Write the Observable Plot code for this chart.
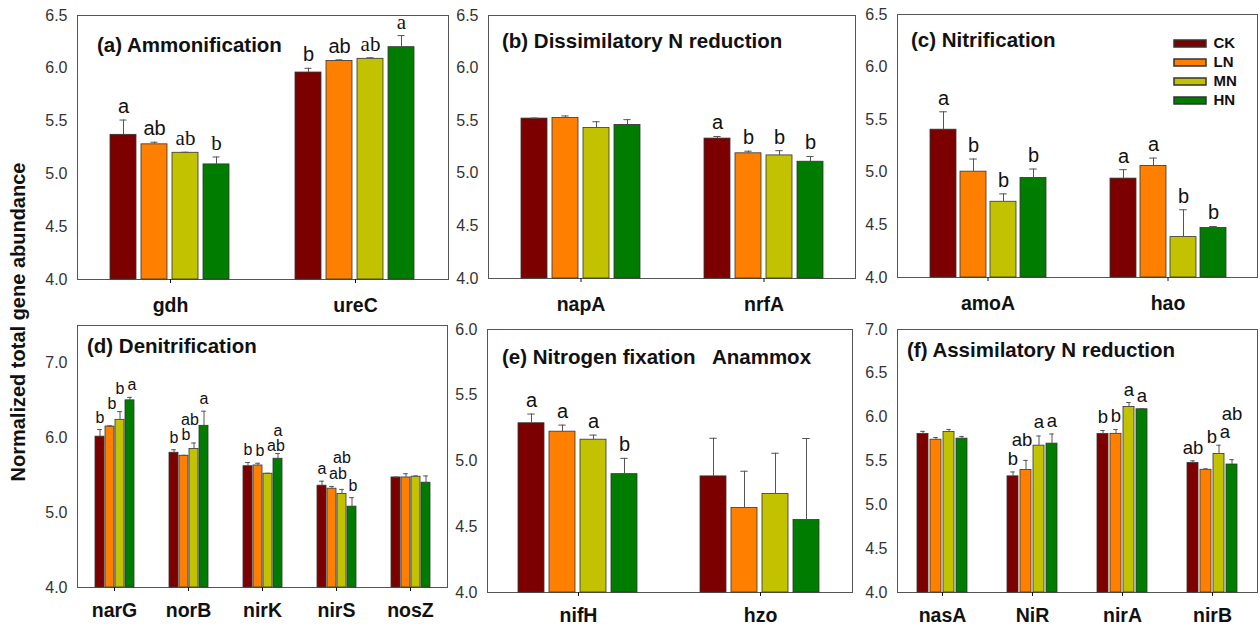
<!DOCTYPE html>
<html>
<head>
<meta charset="utf-8">
<script src="https://cdn.jsdelivr.net/npm/d3@7"></script>
<script src="https://cdn.jsdelivr.net/npm/@observablehq/plot@0.6"></script>
<style>
  html, body { margin: 0; padding: 0; background: #fff; }
  #root { position: relative; width: 1260px; height: 627px; overflow: hidden;
          font-family: Arial, "Liberation Sans", sans-serif; color: #111; }
  .abs { position: absolute; }
  .ptitle { position: absolute; font-weight: bold; font-size: 20.5px; line-height: 1; white-space: pre; color: #111; }
  #ytitle { position: absolute; width: 420px; left: -192px; top: 310px; height: 24px; line-height: 24px;
            text-align: center; font-weight: bold; font-size: 20px; transform: rotate(-90deg); color: #111; }
  #legend rect { stroke: #333; stroke-width: 1.5px; }
</style>
</head>
<body>
<div id="root"></div>
<script>
// ---------------- DATA ----------------
const treatments = ["CK", "LN", "MN", "HN"];
const treatmentColors = ["#7d0000", "#ff8000", "#c2c200", "#007d00"];

// (a) Ammonification
const genesA = ["gdh", "ureC"];
const meansA = [[5.37, 5.28, 5.20, 5.09], [5.96, 6.07, 6.09, 6.20]];
const seA = [[0.14, 0.02, 0.005, 0.07], [0.04, 0.01, 0.01, 0.11]];
const lettersA = [["a", "ab", "ab", "b"], ["b", "ab", "ab", "a"]];

// (b) Dissimilatory N reduction
const genesB = ["napA", "nrfA"];
const meansB = [[5.52, 5.525, 5.43, 5.46], [5.33, 5.19, 5.17, 5.11]];
const seB = [[0.005, 0.02, 0.06, 0.05], [0.02, 0.02, 0.045, 0.05]];
const lettersB = [["", "", "", ""], ["a", "b", "b", "b"]];

// (c) Nitrification
const genesC = ["amoA", "hao"];
const meansC = [[5.405, 5.006, 4.72, 4.946], [4.94, 5.06, 4.384, 4.47]];
const seC = [[0.17, 0.12, 0.075, 0.085], [0.085, 0.075, 0.26, 0.015]];
const lettersC = [["a", "b", "b", "b"], ["a", "a", "b", "b"]];

// (d) Denitrification
const genesD = ["narG", "norB", "nirK", "nirS", "nosZ"];
const meansD = [[6.015, 6.15, 6.24, 6.50], [5.80, 5.76, 5.85, 6.16], [5.62, 5.63, 5.52, 5.72],
                [5.36, 5.32, 5.25, 5.08], [5.47, 5.47, 5.48, 5.40]];
const seD = [[0.095, 0.01, 0.11, 0.04], [0.04, 0.005, 0.08, 0.195], [0.05, 0.03, 0.005, 0.07],
             [0.06, 0.03, 0.06, 0.12], [0.005, 0.05, 0.01, 0.09]];
const lettersD = [["b", "b", "b", "a"], ["b", "b", "ab", "a"], ["b", "b", "ab", "a"],
                  ["a", "ab", "ab", "b"], ["", "", "", ""]];

// (e) Nitrogen fixation / Anammox
const genesE = ["nifH", "hzo"];
const meansE = [[5.287, 5.223, 5.162, 4.90], [4.883, 4.642, 4.749, 4.551]];
const seE = [[0.07, 0.05, 0.035, 0.12], [0.29, 0.28, 0.31, 0.62]];
const lettersE = [["a", "a", "a", "b"], ["", "", "", ""]];

// (f) Assimilatory N reduction
const genesF = ["nasA", "NiR", "nirA", "nirB"];
const meansF = [[5.808, 5.743, 5.83, 5.755], [5.325, 5.397, 5.675, 5.698],
                [5.808, 5.81, 6.117, 6.09], [5.477, 5.40, 5.58, 5.46]];
const seF = [[0.03, 0.025, 0.03, 0.025], [0.05, 0.11, 0.11, 0.11],
             [0.04, 0.05, 0.05, 0.005], [0.025, 0.01, 0.10, 0.055]];
const lettersF = [["", "", "", ""], ["b", "ab", "a", "a"], ["b", "b", "a", "a"], ["ab", "b", "a", "ab"]];

// y tick labels per panel
const ticks25 = [4.0, 4.5, 5.0, 5.5, 6.0, 6.5];
const ticksD = [4.0, 5.0, 6.0, 7.0];
const ticksE = [4.0, 4.5, 5.0, 5.5, 6.0];
const ticksF = [4.0, 4.5, 5.0, 5.5, 6.0, 6.5, 7.0];

const yTitle = "Normalized total gene abundance";

// ---------------- LAYOUT / STYLE ----------------
const FONT = 'Arial, "Liberation Sans", sans-serif';
const SERIF = '"Liberation Serif", "Times New Roman", serif';
// letters that the original typeset in a serif face
const serifLetters = new Set(["gdh|MN", "gdh|HN", "ureC|MN", "ureC|HN"]);
const nudges = d3.range(-9, 10);

const panels = [
  {title: "(a) Ammonification", genes: genesA, means: meansA, se: seA, letters: lettersA,
   domain: [4, 6.5], ticks: ticks25, box: [77, 15, 448, 279], tpos: [97, 34.5], pad: 0.34, lsize: 20},
  {title: "(b) Dissimilatory N reduction", genes: genesB, means: meansB, se: seB, letters: lettersB,
   domain: [4, 6.5], ticks: ticks25, box: [488, 15, 855, 278], tpos: [502, 30.5], pad: 0.34, lsize: 20},
  {title: "(c) Nitrification", genes: genesC, means: meansC, se: seC, letters: lettersC,
   domain: [4, 6.5], ticks: ticks25, box: [897, 14, 1257, 277], tpos: [911, 29.5], pad: 0.34, lsize: 20},
  {title: "(d) Denitrification", genes: genesD, means: meansD, se: seD, letters: lettersD,
   domain: [4, 7.5], ticks: ticksD, box: [77, 325, 447, 587], tpos: [87, 336], pad: 0.43, lsize: 16},
  {title: "(e) Nitrogen fixation   Anammox", genes: genesE, means: meansE, se: seE, letters: lettersE,
   domain: [4, 6], ticks: ticksE, box: [487, 329, 852, 592], tpos: [502, 346.5], pad: 0.34, lsize: 20},
  {title: "(f) Assimilatory N reduction", genes: genesF, means: meansF, se: seF, letters: lettersF,
   domain: [4, 7], ticks: ticksF, box: [897, 329, 1257, 592], tpos: [907, 340], pad: 0.42, lsize: 18.5}
];

const root = document.getElementById("root");

// place significance letters above the error bars; when they would collide with a
// neighbouring letter or bar, take the cheapest combination of a sideways nudge and a lift
function layoutLetters(rows, p, pxPerUnit, stepPx, barW) {
  const fs = p.lsize, charW = 0.57 * fs, h = 0.95 * fs, gap = 7, pad = 3;
  for (const [, rs] of d3.group(rows, d => d.gene)) {
    const placed = [];
    const cols = rs.map((d, j) => ({x0: j * stepPx - barW / 2 - 1, x1: j * stepPx + barW / 2 + 1,
                                     top: (d.mean + d.se - p.domain[0]) * pxPerUnit + 2}));
    rs.forEach((d, j) => {
      d.ly = d.mean + d.se; d.ldx = 0;
      if (!d.letter) return;
      const w = d.letter.length * charW;
      const cx = j * stepPx;
      const base0 = (d.mean + d.se - p.domain[0]) * pxPerUnit + gap;
      const ok = (x, b) =>
        !placed.some(q => Math.abs(q.x - x) < (q.w + w) / 2 + pad && Math.abs(q.b - b) < h) &&
        !cols.some((c, k) => k !== j && x + w / 2 > c.x0 && x - w / 2 < c.x1 && b < c.top);
      let best = null;
      for (let r = 0; r <= 70; r++) {
        for (const n of nudges) {
          const cost = 0.6 * Math.abs(n) + r;
          if (best && cost >= best.cost) continue;
          if (ok(cx + n, base0 + r)) best = {cost, n, r};
        }
      }
      if (!best) best = {n: 0, r: 0};
      placed.push({x: cx + best.n, b: base0 + best.r, w});
      d.ly = p.domain[0] + (base0 + best.r) / pxPerUnit;
      d.ldx = best.n;
    });
  }
}

function drawPanel(p) {
  const [L, T, R, B] = p.box;
  const mL = 50, mR = 1, mT = 1, mB = Math.min(45, 627 - B);
  const W = R - L + mL + mR, H = B - T + mT + mB;
  const rows = [];
  p.genes.forEach((g, i) => treatments.forEach((t, j) => rows.push({
    gene: g, trt: t, mean: p.means[i][j], se: p.se[i][j], letter: p.letters[i][j]
  })));

  const step = (R - L) / p.genes.length;
  const band = step * (1 - p.pad);
  const innerStep = band / (treatments.length - 0.15);
  const barW = innerStep * 0.85;
  const cap = Math.max(5, Math.min(8, barW * 0.3));
  const ins = Math.max(0, (barW - cap) / 2);
  const pxPerUnit = (B - T) / (p.domain[1] - p.domain[0]);
  layoutLetters(rows, p, pxPerUnit, innerStep, barW);

  const holder = document.createElement("div");
  holder.className = "abs";
  holder.style.left = (L - mL) + "px";
  holder.style.top = (T - mT) + "px";
  holder.style.width = W + "px";
  holder.style.height = H + "px";

  const base = Plot.plot({
    width: W, height: H, marginLeft: mL, marginRight: mR, marginTop: mT, marginBottom: mB,
    style: {fontSize: "16px", fontFamily: FONT, color: "#333", background: "transparent", overflow: "visible"},
    y: {domain: p.domain, ticks: p.ticks, tickFormat: d3.format(".1f"), tickSize: 0, tickPadding: 10, label: null},
    marks: [Plot.frame({stroke: "#555", strokeWidth: 1})]
  });
  base.style.position = "absolute"; base.style.left = "0px"; base.style.top = "0px";

  const top = d => d.mean + d.se;
  const usedNudges = Array.from(new Set(rows.filter(d => d.letter).map(d => d.ldx)));
  const letterMarks = [];
  for (const n of usedNudges) {
    letterMarks.push(
      Plot.text(rows, {fx: "gene", x: "trt", y: "ly", text: "letter", dx: n,
        filter: d => d.letter && d.ldx === n && !serifLetters.has(d.gene + "|" + d.trt),
        lineAnchor: "bottom", fontSize: p.lsize, fontWeight: "normal", fontFamily: FONT, fill: "#111"}),
      Plot.text(rows, {fx: "gene", x: "trt", y: "ly", text: "letter", dx: n,
        filter: d => d.letter && d.ldx === n && serifLetters.has(d.gene + "|" + d.trt),
        lineAnchor: "bottom", fontSize: p.lsize + 1, fontWeight: "normal", fontFamily: SERIF, fill: "#111"})
    );
  }

  const bottomRow = B > 400;
  const bars = Plot.plot({
    width: W, height: H, marginLeft: mL, marginRight: mR, marginTop: mT, marginBottom: mB,
    style: {fontSize: "19.5px", fontWeight: "bold", fontFamily: FONT, color: "#111", background: "transparent", overflow: "visible"},
    fx: {domain: p.genes, paddingInner: p.pad, paddingOuter: p.pad / 2, axis: "bottom", tickSize: 4,
         tickPadding: bottomRow ? 12 : 15, label: null},
    x: {domain: treatments, paddingInner: 0.15, paddingOuter: 0, axis: null},
    y: {domain: p.domain, axis: null},
    color: {domain: treatments, range: treatmentColors},
    marks: [
      Plot.barY(rows, {fx: "gene", x: "trt", y1: p.domain[0], y2: "mean", fill: "trt", stroke: "#333", strokeWidth: 0.8}),
      Plot.ruleX(rows, {fx: "gene", x: "trt", y1: "mean", y2: top, stroke: "#555", strokeWidth: 1}),
      Plot.tickY(rows, {fx: "gene", x: "trt", y: top, stroke: "#555", strokeWidth: 1, insetLeft: ins, insetRight: ins}),
      ...letterMarks
    ]
  });
  bars.style.position = "absolute"; bars.style.left = "0px"; bars.style.top = "0px";

  holder.appendChild(base);
  holder.appendChild(bars);
  root.appendChild(holder);

  const t = document.createElement("div");
  t.className = "ptitle";
  t.textContent = p.title;
  t.style.left = p.tpos[0] + "px";
  t.style.top = p.tpos[1] + "px";
  root.appendChild(t);
}

panels.forEach(drawPanel);

// y title
const yt = document.createElement("div");
yt.id = "ytitle";
yt.textContent = yTitle;
root.appendChild(yt);

// legend
const leg = Plot.legend({
  color: {domain: treatments, range: treatmentColors},
  legend: "swatches", columns: 1, swatchWidth: 32, swatchHeight: 7,
  style: {fontSize: "15px", fontWeight: "bold", fontFamily: FONT, color: "#111", lineHeight: "18px", background: "transparent"}
});
const legHolder = document.createElement("div");
legHolder.id = "legend";
legHolder.className = "abs";
legHolder.style.left = "1174px";
legHolder.style.top = "34px";
legHolder.appendChild(leg);
root.appendChild(legHolder);
</script>
</body>
</html>
